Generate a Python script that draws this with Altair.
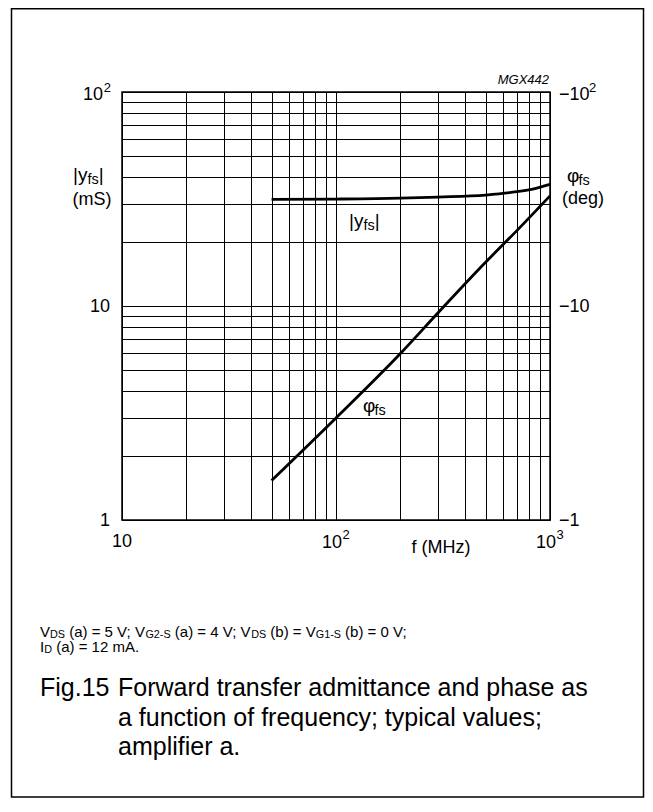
import altair as alt
import pandas as pd

# ---------------- data ----------------
FREQ_Y = [50, 100, 200, 300, 500, 700, 850, 1000]
YFS = [31.5, 31.6, 31.9, 32.3, 33.0, 34.2, 35.4, 37.0]

FREQ_P = [50, 100, 200, 300, 500, 700, 1000]
PHI = [1.53, 3.0, 6.0, 9.3, 16.0, 22.5, 32.7]

X_GRID = [10, 20, 30, 40, 50, 60, 70, 80, 90,
          100, 200, 300, 400, 500, 600, 700, 800, 900, 1000]
Y_GRID = [1, 2, 3, 4, 5, 6, 7, 8, 9,
          10, 20, 30, 40, 50, 60, 70, 80, 90, 100]

X_TICKS = [10, 100, 1000]
X_SUP = ["", "2", "3"]
Y_TICKS = [1, 10, 100]
Y_SUP = ["", "", "2"]

COND_1 = [("V", ""), ("DS", "sub"), (" (a) = 5 V; V", ""), ("G2-S", "sub"),
          (" (a) = 4 V; V", ""), ("DS", "sub"), (" (b) = V", ""),
          ("G1-S", "sub"), (" (b) = 0 V;", "")]
COND_2 = [("I", ""), ("D", "sub"), (" (a) = 12 mA.", "")]
CAPTION_NUM = "Fig.15"
CAPTION = ["Forward transfer admittance and phase as",
           "a function of frequency; typical values;",
           "amplifier a."]

FONT = "Liberation Sans"

# ---------------- helpers for rich (sub/superscript) text ----------------
_W = {' ': 278, '!': 278, '(': 333, ')': 333, '-': 333, '.': 278, ';': 278,
      '=': 584, '|': 260, 'φ': 600, '−': 584,
      'A': 667, 'D': 722, 'F': 611, 'G': 778, 'H': 722, 'I': 278, 'M': 833,
      'S': 667, 'V': 667, 'X': 667,
      'a': 556, 'b': 556, 'c': 500, 'd': 556, 'e': 556, 'f': 278, 'g': 556,
      'h': 556, 'i': 222, 'l': 222, 'm': 833, 'n': 556, 'o': 556, 'p': 556,
      'q': 556, 'r': 333, 's': 500, 't': 278, 'u': 556, 'v': 500, 'w': 722,
      'y': 500, 'z': 500}


def text_width(t, size):
    return sum(_W.get(c, 556) for c in t) * size / 1000.0


def rich(segments, x0, yc, size, ratio=0.75, align="left", sub=0.28):
    widths = [text_width(t, size * (ratio if k else 1)) for t, k in segments]
    total = sum(widths)
    x = x0 - (total / 2 if align == "center" else 0)
    out = []
    for (t, k), w in zip(segments, widths):
        s = size * (ratio if k else 1)
        dy = sub * size if k == "sub" else (-0.38 * size if k == "sup" else 0)
        lead = len(t) - len(t.lstrip(" "))
        out.append({"t": t.strip(" "), "px": x + text_width(" " * lead, s),
                    "py": yc + dy, "fs": s})
        x += w
    return out


pieces = []
# axis titles
pieces += rich([("|y", ""), ("fs", "sub"), ("|", "")], -49, 83, 19, 0.76)
pieces += rich([("(mS)", "")], -30, 107.5, 18, align="center")
pieces += rich([("φ", ""), ("fs", "sub")], 445, 84, 19, 0.76)
pieces += rich([("(deg)", "")], 461, 106.5, 18, align="center")
# curve labels
pieces += rich([("|y", ""), ("fs", "sub"), ("|", "")], 227, 129, 19, 0.76)
pieces += rich([("φ", ""), ("fs", "sub")], 241, 314, 19, 0.76)
# x axis title
pieces += rich([("f (MHz)", "")], 319, 456, 18, align="center")
# conditions
pieces += rich(COND_1, -82, 540, 15, 0.72, sub=0.22)
pieces += rich(COND_2, -82, 555, 15, 0.72, sub=0.22)
# caption
pieces += rich([(CAPTION_NUM, "")], -82, 596, 25)
for i, line in enumerate(CAPTION):
    pieces += rich([(line, "")], -4, 596 + 29.5 * i, 25)
text_df = pd.DataFrame(pieces)

# ---------------- chart ----------------
xs = alt.Scale(type="log", domain=[10, 1000], nice=False)
ys = alt.Scale(type="log", domain=[1, 100], nice=False)

curves = pd.DataFrame(
    {"f": FREQ_Y + FREQ_P,
     "v": YFS + PHI,
     "s": ["yfs"] * len(FREQ_Y) + ["phi"] * len(FREQ_P)})

grid_axis_x = alt.Axis(values=X_GRID, grid=True, labels=False, ticks=False,
                       domain=False, title=None, gridColor="black",
                       gridOpacity=1, gridWidth=1)
grid_axis_y = alt.Axis(values=Y_GRID, grid=True, labels=False, ticks=False,
                       domain=False, title=None, gridColor="black",
                       gridOpacity=1, gridWidth=1)

lines = alt.Chart(curves).mark_line(color="black", strokeWidth=2.8,
                                    interpolate="monotone").encode(
    x=alt.X("f:Q", scale=xs, axis=grid_axis_x),
    y=alt.Y("v:Q", scale=ys, axis=grid_axis_y),
    detail="s:N")

xt = pd.DataFrame({"f": X_TICKS, "sup": X_SUP, "y": [1, 1, 1]})
xt_plain = alt.Chart(xt).transform_filter("datum.sup == ''").mark_text(
    font=FONT, fontSize=18, baseline="middle", align="center", dy=22).encode(
    x=alt.X("f:Q", scale=xs, axis=None), y=alt.Y("y:Q", scale=ys, axis=None),
    text=alt.value("10"))
xt_base = alt.Chart(xt).transform_filter("datum.sup != ''").mark_text(
    font=FONT, fontSize=18, baseline="middle", align="center", dy=23, dx=-4).encode(
    x=alt.X("f:Q", scale=xs, axis=None), y=alt.Y("y:Q", scale=ys, axis=None),
    text=alt.value("10"))
xt_sup = alt.Chart(xt).transform_filter("datum.sup != ''").mark_text(
    font=FONT, fontSize=13, baseline="middle", align="center", dy=15, dx=10).encode(
    x=alt.X("f:Q", scale=xs, axis=None), y=alt.Y("y:Q", scale=ys, axis=None),
    text="sup:N")

yt = pd.DataFrame({"v": Y_TICKS, "sup": Y_SUP, "x": [10, 10, 10], "x2": [1000, 1000, 1000]})
yt_plain = alt.Chart(yt).transform_filter("datum.sup == ''").mark_text(
    font=FONT, fontSize=18, baseline="middle", align="right", dx=-12, dy=1).encode(
    x=alt.X("x:Q", scale=xs, axis=None), y=alt.Y("v:Q", scale=ys, axis=None),
    text=alt.Text("v:Q", format="d"))
yt_base = alt.Chart(yt).transform_filter("datum.sup != ''").mark_text(
    font=FONT, fontSize=18, baseline="middle", align="right", dx=-19, dy=3).encode(
    x=alt.X("x:Q", scale=xs, axis=None), y=alt.Y("v:Q", scale=ys, axis=None),
    text=alt.value("10"))
yt_sup = alt.Chart(yt).transform_filter("datum.sup != ''").mark_text(
    font=FONT, fontSize=13, baseline="middle", align="right", dx=-11, dy=-4).encode(
    x=alt.X("x:Q", scale=xs, axis=None), y=alt.Y("v:Q", scale=ys, axis=None),
    text="sup:N")

yr_plain = alt.Chart(yt).transform_filter("datum.sup == ''").transform_calculate(
    lab="'−' + datum.v").mark_text(
    font=FONT, fontSize=18, baseline="middle", align="left", dx=9, dy=1).encode(
    x=alt.X("x2:Q", scale=xs, axis=None), y=alt.Y("v:Q", scale=ys, axis=None),
    text="lab:N")
yr_base = alt.Chart(yt).transform_filter("datum.sup != ''").mark_text(
    font=FONT, fontSize=18, baseline="middle", align="left", dx=9, dy=3).encode(
    x=alt.X("x2:Q", scale=xs, axis=None), y=alt.Y("v:Q", scale=ys, axis=None),
    text=alt.value("−10"))
yr_sup = alt.Chart(yt).transform_filter("datum.sup != ''").mark_text(
    font=FONT, fontSize=13, baseline="middle", align="left", dx=39, dy=-4).encode(
    x=alt.X("x2:Q", scale=xs, axis=None), y=alt.Y("v:Q", scale=ys, axis=None),
    text="sup:N")

texts = alt.Chart(text_df).mark_text(font=FONT, align="left",
                                     baseline="middle", color="black").encode(
    x=alt.X("px:Q", scale=None, axis=None),
    y=alt.Y("py:Q", scale=None, axis=None),
    size=alt.Size("fs:Q", scale=None, legend=None),
    text="t:N")

code = alt.Chart(pd.DataFrame({"t": ["MGX442"]})).mark_text(
    font=FONT, fontSize=13, fontStyle="italic", align="right",
    baseline="middle").encode(x=alt.value(427), y=alt.value(-12), text="t:N")

frame = alt.Chart(pd.DataFrame({"a": [0]})).mark_rect(
    filled=False, stroke="black", strokeWidth=1.5).encode(
    x=alt.value(-110.5), x2=alt.value(521.5), y=alt.value(-83.2), y2=alt.value(705))

chart = alt.layer(
    lines, xt_plain, xt_base, xt_sup, yt_plain, yt_base, yt_sup,
    yr_plain, yr_base, yr_sup, texts, code, frame
).resolve_scale(x="independent", y="independent").properties(
    width=428, height=428,
    autosize=alt.AutoSizeParams(type="none"),
    padding={"left": 114, "top": 84, "right": 95, "bottom": 278},
    background="white",
).configure_view(stroke="black", strokeWidth=1.5).configure_text(color="black")

chart.save("out.html", embed_options={"renderer": "svg", "actions": False})
